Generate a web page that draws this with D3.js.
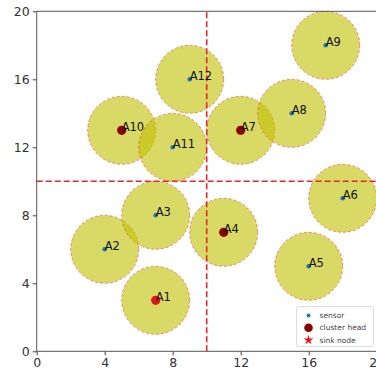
<!DOCTYPE html>
<style>
body { margin: 0; background: #fff; }
text { font-family: "DejaVu Sans", sans-serif; }
</style>
<svg width="376" height="374"></svg>
<script src="https://d3js.org/d3.v7.min.js"></script>
<script>
    var names = ["A1", "A2", "A3", "A4", "A5", "A6", "A7", "A8", "A9", "A10", "A11", "A12"];
    var xs = [7, 4, 7, 11, 16, 18, 12, 15, 17, 5, 8, 9];
    var ys = [3, 6, 8, 7, 5, 9, 13, 14, 18, 13, 12, 16];
    var kinds = ["first", "sensor", "sensor", "head", "sensor", "sensor", "head", "sensor", "sensor", "head", "sensor", "sensor"];
    var radius = 2;
    var splitX = 10, splitY = 10;
    var xTicks = [0, 4, 8, 12, 16, 20];
    var yTicks = [0, 4, 8, 12, 16, 20];
    var legendItems = ["sensor", "cluster head", "sink node"];

    var svg = d3.select("svg"),
        margin = {top: 11.3, left: 36.7},
        w = 340, h = 340;

    var x = d3.scaleLinear().domain([0, 20]).range([margin.left, margin.left + w]);
    var y = d3.scaleLinear().domain([0, 20]).range([margin.top + h, margin.top]);

    var nodes = names.map(function(n, i) { return {name: n, x: xs[i], y: ys[i], kind: kinds[i]}; });

    // coverage circles
    svg.append("g").selectAll("circle")
        .data(nodes)
        .enter().append("circle")
        .attr("cx", function(d) { return x(d.x); })
        .attr("cy", function(d) { return y(d.y); })
        .attr("r", x(radius) - x(0))
        .attr("fill", "rgb(191,191,0)")
        .attr("fill-opacity", 0.6)
        .attr("stroke", "rgb(235,60,40)")
        .attr("stroke-opacity", 0.55)
        .attr("stroke-width", 1)
        .attr("stroke-dasharray", "3,2");

    // split lines
    svg.append("line")
        .attr("x1", x(splitX)).attr("x2", x(splitX))
        .attr("y1", y(0)).attr("y2", y(20))
        .attr("stroke", "#e8262a").attr("stroke-width", 1.6)
        .attr("stroke-dasharray", "6,3");
    svg.append("line")
        .attr("x1", x(0)).attr("x2", x(20))
        .attr("y1", y(splitY)).attr("y2", y(splitY))
        .attr("stroke", "#e8262a").attr("stroke-width", 1.6)
        .attr("stroke-dasharray", "6,3");

    // markers
    svg.append("g").selectAll("circle")
        .data(nodes)
        .enter().append("circle")
        .attr("cx", function(d) { return x(d.x); })
        .attr("cy", function(d) { return y(d.y); })
        .attr("r", function(d) { return d.kind == "sensor" ? 2.3 : 4.6; })
        .attr("fill", function(d) {
            return d.kind == "sensor" ? "#1f77b4" : d.kind == "head" ? "#8b0000" : "#e0141a";
        });

    svg.append("g").selectAll("text")
        .data(nodes)
        .enter().append("text")
        .attr("x", function(d) { return x(d.x); })
        .attr("y", function(d) { return y(d.y) + 1; })
        .attr("font-size", 11.5)
        .attr("fill", "#111")
        .text(function(d) { return d.name; });

    // axes
    svg.append("g")
        .attr("transform", "translate(0," + y(0) + ")")
        .call(d3.axisBottom(x).tickValues(xTicks).tickSize(4).tickPadding(3))
        .call(function(g) { g.select(".domain").remove(); })
        .selectAll("text").attr("font-size", 12.5).attr("fill", "#333");
    svg.append("g")
        .attr("transform", "translate(" + x(0) + ",0)")
        .call(d3.axisLeft(y).tickValues(yTicks).tickSize(4).tickPadding(3))
        .call(function(g) { g.select(".domain").remove(); })
        .selectAll("text").attr("font-size", 12.5).attr("fill", "#333");
    svg.selectAll(".tick line").attr("stroke", "#444");

    svg.append("rect")
        .attr("x", x(0)).attr("y", y(20))
        .attr("width", w).attr("height", h)
        .attr("fill", "none").attr("stroke", "#555").attr("stroke-width", 1);

    // legend
    var lg = svg.append("g").attr("transform", "translate(296.5,306.5)");
    lg.append("rect")
        .attr("width", 77).attr("height", 40).attr("rx", 2)
        .attr("fill", "#fff").attr("fill-opacity", 0.85)
        .attr("stroke", "#ddd");
    legendItems.forEach(function(t, i) {
        var cy = 9 + i * 12.3;
        if (i == 0) {
            lg.append("circle").attr("cx", 12).attr("cy", cy).attr("r", 2).attr("fill", "#1f77b4");
        } else if (i == 1) {
            lg.append("circle").attr("cx", 12).attr("cy", cy).attr("r", 4.3).attr("fill", "#8b0000");
        } else {
            lg.append("path")
                .attr("transform", "translate(12," + cy + ")")
                .attr("d", d3.symbol().type(d3.symbolStar).size(30)())
                .attr("fill", "#e8141a");
        }
        lg.append("text")
            .attr("x", 23).attr("y", cy + 2.5)
            .attr("font-size", 7.5).attr("fill", "#444")
            .text(t);
    });
</script>
